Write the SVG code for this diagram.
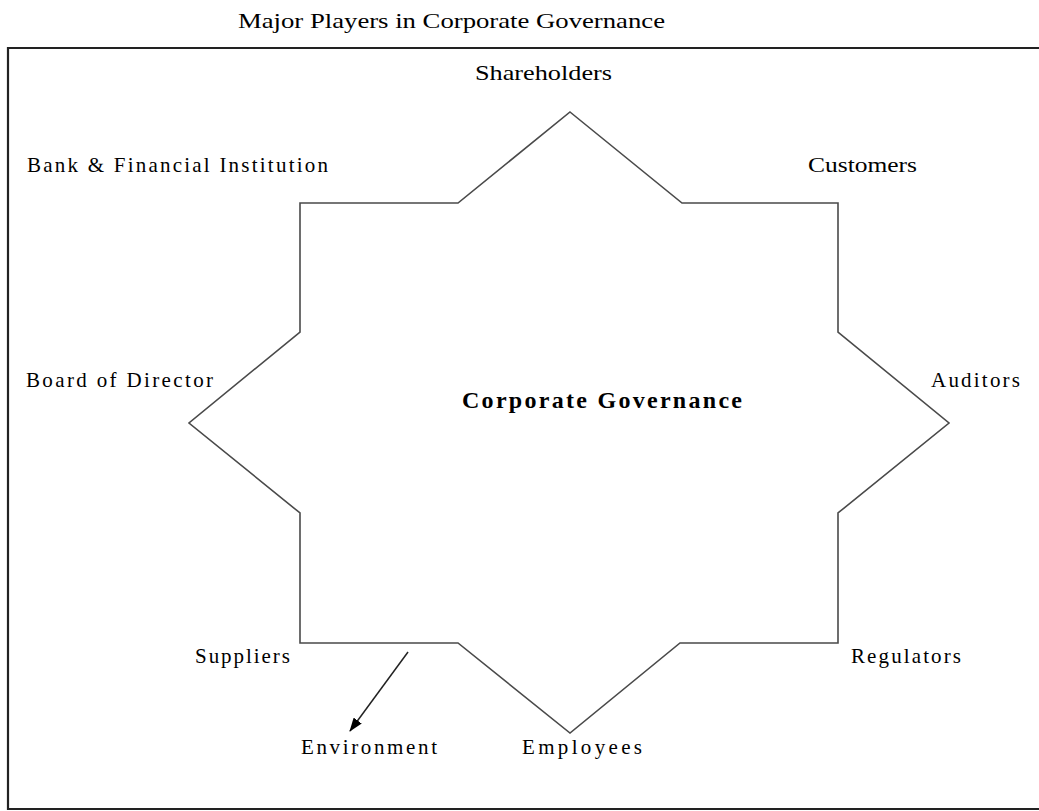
<svg xmlns="http://www.w3.org/2000/svg" width="1039" height="811" viewBox="0 0 1039 811">
  <style>
    .lbl { font-family: "Liberation Serif", "Times New Roman", serif; font-size: 21px; fill: #000; }
    .ctr { font-family: "Liberation Serif", "Times New Roman", serif; font-size: 24px; font-weight: bold; fill: #000; }
    .star { fill: none; stroke: #4a4a4a; stroke-width: 1.6; stroke-linejoin: miter; }
    .frame { fill: none; stroke: #222; stroke-width: 2.2; }
    .conn { stroke: #222; stroke-width: 1.5; fill: none; }
  </style>
  <defs>
    <marker id="arrow" viewBox="0 0 14 10" refX="13" refY="5" markerWidth="14" markerHeight="10" orient="auto" markerUnits="userSpaceOnUse">
      <path d="M0,0 L14,5 L0,10 z" fill="#000"/>
    </marker>
  </defs>

  <rect width="1039" height="811" fill="#fff"/>

  <!-- title -->
  <text class="lbl" x="238" y="28" textLength="427" lengthAdjust="spacingAndGlyphs">Major Players in Corporate Governance</text>

  <!-- outer frame: open on the right side -->
  <path class="frame" d="M1040,48 L8,48 L8,809 L1040,809"/>

  <!-- central star -->
  <g id="corporate-governance">
    <polygon class="star" points="570,112 682,203 838,203 838,332 949,423 838,513 838,643 680,643 570,733 458,643 300,643 300,513 189,423 300,332 300,203 458,203"/>
    <text class="ctr" x="462" y="408" textLength="280" lengthAdjust="spacing">Corporate Governance</text>
  </g>

  <g id="shareholders"><text class="lbl" x="475" y="80" textLength="137" lengthAdjust="spacingAndGlyphs">Shareholders</text></g>
  <g id="bank"><text class="lbl" x="27" y="172" textLength="301" lengthAdjust="spacing">Bank &amp; Financial Institution</text></g>
  <g id="customers"><text class="lbl" x="808" y="172" textLength="109" lengthAdjust="spacingAndGlyphs">Customers</text></g>
  <g id="board"><text class="lbl" x="26" y="387" textLength="187" lengthAdjust="spacing">Board of Director</text></g>
  <g id="auditors"><text class="lbl" x="931" y="387" textLength="89" lengthAdjust="spacing">Auditors</text></g>
  <g id="suppliers"><text class="lbl" x="195" y="663" textLength="95" lengthAdjust="spacing">Suppliers</text></g>
  <g id="regulators"><text class="lbl" x="851" y="663" textLength="110" lengthAdjust="spacing">Regulators</text></g>
  <g id="environment"><text class="lbl" x="301" y="754" textLength="136" lengthAdjust="spacing">Environment</text></g>
  <g id="employees"><text class="lbl" x="522" y="754" textLength="120" lengthAdjust="spacing">Employees</text></g>

  <g id="connectors">
    <line class="conn" x1="408" y1="652" x2="350" y2="731" marker-end="url(#arrow)"/>
  </g>
</svg>
